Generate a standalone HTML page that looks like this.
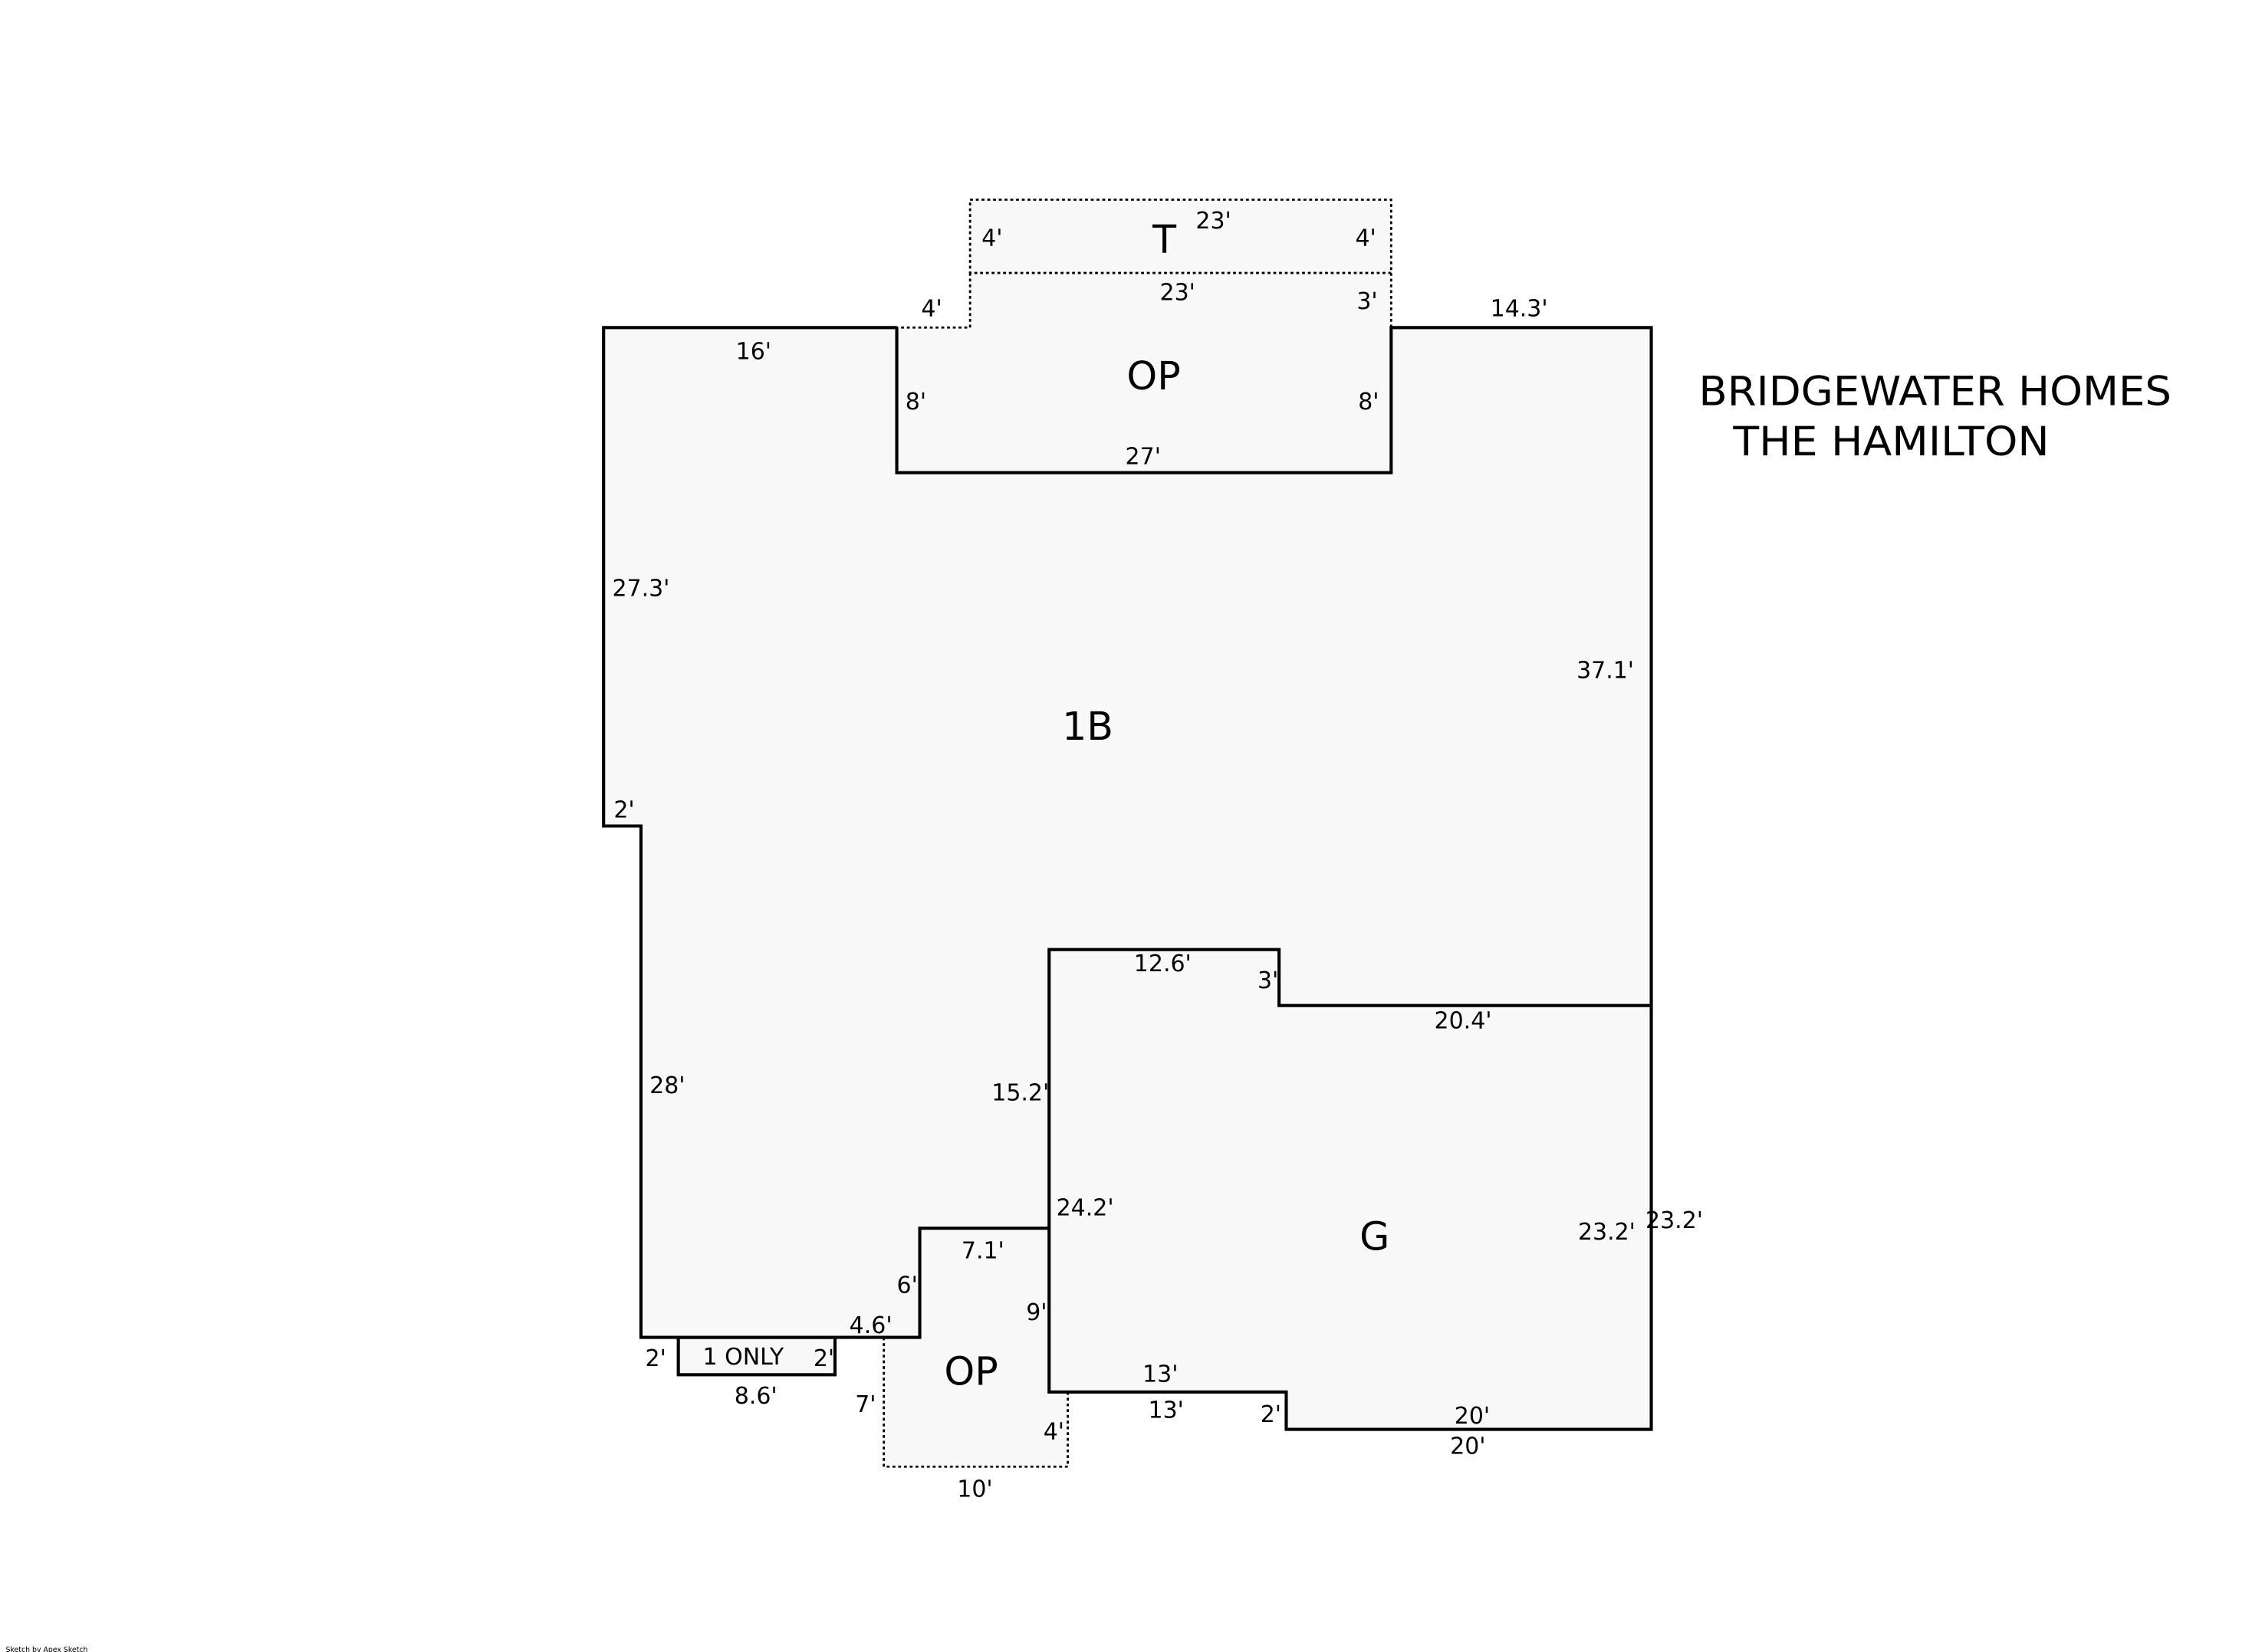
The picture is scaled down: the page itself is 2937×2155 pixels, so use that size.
<!DOCTYPE html>
<html><head><meta charset="utf-8"><style>
html,body{margin:0;padding:0;background:#fff;}
svg{display:block;}
text{font-family:"DejaVu Sans","Liberation Sans",sans-serif;fill:#000;}
.d{font-size:16px;}
.b{font-size:27px;}
</style></head><body>
<svg width="2937" height="2155" viewBox="0 0 1567 1150" xmlns="http://www.w3.org/2000/svg" preserveAspectRatio="none">
<rect width="1567" height="1150" fill="#fff"/>
<g fill="#f8f8f8" stroke="none">
<rect x="675" y="139" width="293" height="89"/>
<polygon points="420,228 624,228 624,329 968,329 968,228 1149,228 1149,700 890,700 890,661 730,661 730,855 640,855 640,931 446,931 446,575 420,575"/>
<polygon points="624,228 968,228 968,329 624,329"/>
<polygon points="730,661 890,661 890,700 1149,700 1149,995 895,995 895,969 730,969"/>
<rect x="472" y="931" width="109" height="26"/>
<polygon points="615,931 640,931 640,855 730,855 730,969 743,969 743,1021 615,1021"/>
</g>
<g fill="none" stroke="#000" stroke-width="1.5" stroke-dasharray="2,2">
<rect x="675" y="139" width="293" height="51"/>
<polyline points="675,190 675,228 624,228"/>
<line x1="968" y1="190" x2="968" y2="228"/>
<polyline points="615,931 615,1021 743,1021 743,969"/>
</g>
<g fill="none" stroke="#000" stroke-width="2.2">
<polyline points="624,228 420,228 420,575 446,575 446,931 640,931 640,855 730,855"/>
<polyline points="624,228 624,329 968,329 968,228 1149,228 1149,700 890,700 890,661 730,661 730,969 895,969 895,995 1149,995 1149,700"/>
<rect x="472" y="931" width="109" height="26"/>
</g>
<g class="d">
<text x="683" y="171">4'</text>
<text x="943" y="171">4'</text>
<text x="832" y="159">23'</text>
<text x="807" y="209">23'</text>
<text x="944" y="215">3'</text>
<text x="641" y="220">4'</text>
<text x="1037" y="220">14.3'</text>
<text x="512" y="250">16'</text>
<text x="630" y="285">8'</text>
<text x="945" y="285">8'</text>
<text x="783" y="323">27'</text>
<text x="426" y="415">27.3'</text>
<text x="1097" y="472">37.1'</text>
<text x="427" y="569">2'</text>
<text x="789" y="676">12.6'</text>
<text x="875" y="688">3'</text>
<text x="998" y="716">20.4'</text>
<text x="452" y="761">28'</text>
<text x="690" y="766">15.2'</text>
<text x="735" y="846">24.2'</text>
<text x="1098" y="863">23.2'</text>
<text x="1145" y="855">23.2'</text>
<text x="669" y="876">7.1'</text>
<text x="624" y="900">6'</text>
<text x="714" y="919">9'</text>
<text x="591" y="928">4.6'</text>
<text x="449" y="951">2'</text>
<text x="489" y="950">1 ONLY</text>
<text x="566" y="951">2'</text>
<text x="795" y="962">13'</text>
<text x="511" y="977">8.6'</text>
<text x="595" y="983">7'</text>
<text x="799" y="987">13'</text>
<text x="877" y="990">2'</text>
<text x="1012" y="991">20'</text>
<text x="726" y="1002">4'</text>
<text x="1009" y="1012">20'</text>
<text x="666" y="1042">10'</text>
</g>
<g class="b">
<text x="802" y="176">T</text>
<text x="784" y="271">OP</text>
<text x="739" y="515">1B</text>
<text x="946" y="870">G</text>
<text x="657" y="964">OP</text>
</g>
<text x="1182" y="282" font-size="28" textLength="329" lengthAdjust="spacingAndGlyphs">BRIDGEWATER HOMES</text>
<text x="1206" y="317" font-size="28" textLength="220" lengthAdjust="spacingAndGlyphs">THE HAMILTON</text>
<text x="4" y="1150" font-size="5">Sketch by Apex Sketch</text>
</svg>
</body></html>
